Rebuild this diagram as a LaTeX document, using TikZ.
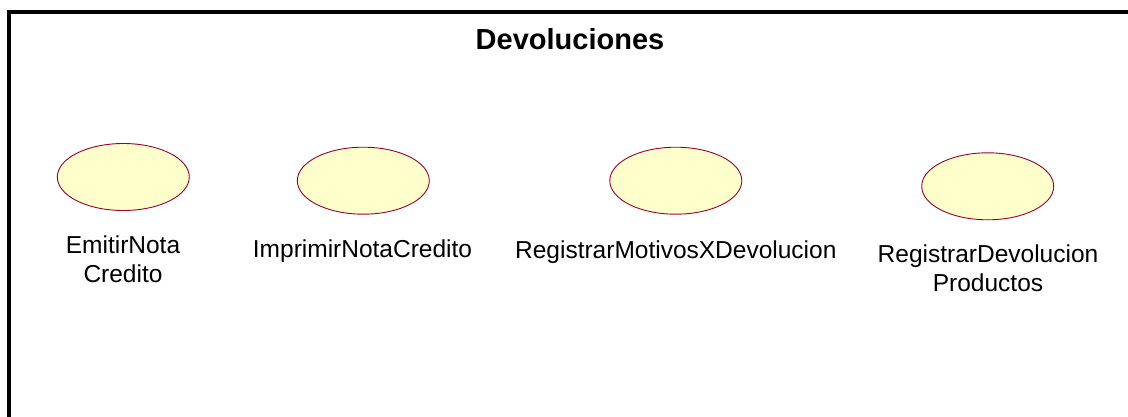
\documentclass[tikz,border=0pt]{standalone}
\usepackage{fontspec}
\setmainfont{Liberation Sans}
\usetikzlibrary{shapes.geometric}
\definecolor{ucfill}{HTML}{FFFFCC}
\definecolor{ucdraw}{HTML}{990033}
\tikzset{
  usecase/.style={ellipse, draw=ucdraw, fill=ucfill, line width=0.9pt, minimum width=132pt, minimum height=67pt, inner sep=0pt},
  uclabel/.style={anchor=base, align=center, inner sep=0pt, font=\fontsize{24.5}{29.4}\selectfont},
  titlelabel/.style={anchor=base, inner sep=0pt, font=\fontsize{29}{34}\selectfont\bfseries},
  frameline/.style={draw=black, line width=4pt}
}
\begin{document}
\begin{tikzpicture}[x=1pt,y=1pt]
\useasboundingbox (0,0) rectangle (1128,416);
\clip (0,0) rectangle (1128,416);
\fill[white] (0,0) rectangle (1128,416);
\coordinate (fbl) at (8.7,-20);
\coordinate (ftr) at (1150,404);
\draw[frameline] (fbl) rectangle (ftr);
\node[titlelabel] (title) at (570,366.7) {Devoluciones};
\node[usecase] (uc1) at (123.3,239) {};
\node[usecase] (uc2) at (363.3,235.3) {};
\node[usecase] (uc3) at (675.8,235.3) {};
\node[usecase] (uc4) at (987.7,229.7) {};
\node[uclabel] (l1) at (123,133.3) {EmitirNota\\Credito};
\node[uclabel] (l2) at (362.5,158.7) {ImprimirNotaCredito};
\node[uclabel] (l3) at (675.8,158) {RegistrarMotivosXDevolucion};
\node[uclabel] (l4) at (988,124.3) {RegistrarDevolucion\\Productos};
\end{tikzpicture}
\end{document}
